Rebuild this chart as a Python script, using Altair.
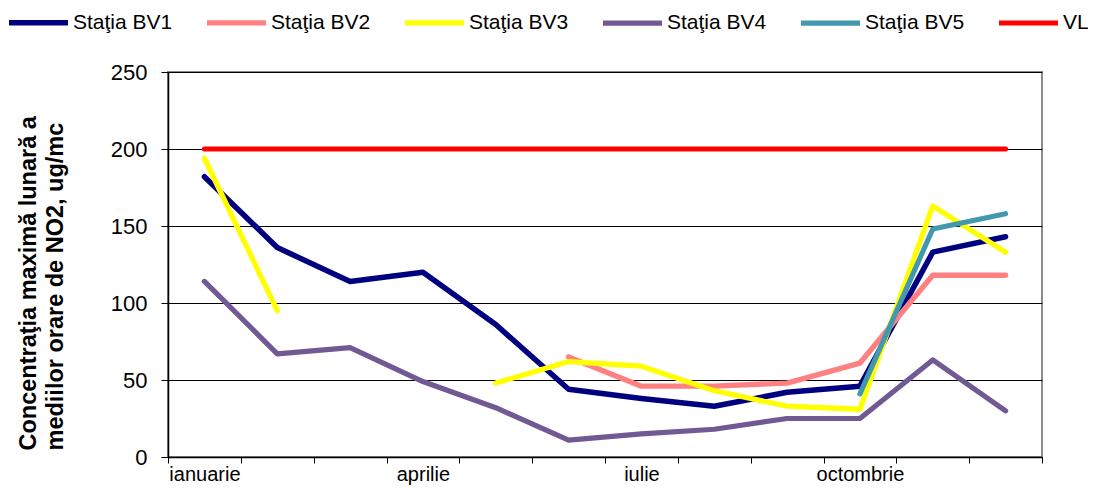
import altair as alt
import pandas as pd

months = ["ianuarie", "februarie", "martie", "aprilie", "mai", "iunie",
          "iulie", "august", "septembrie", "octombrie", "noiembrie", "decembrie"]
series_names = ["Staţia BV1", "Staţia BV2", "Staţia BV3", "Staţia BV4", "Staţia BV5", "VL"]

bv1 = [182, 136, 114, 120, 86, 44, 38, 33, 42, 46, 133, 143]
bv2 = [None, None, None, None, None, 65, 46, 46, 48, 61, 118, 118]
bv3 = [194, 95, None, None, 48, 62, 59, 43, 33, 31, 163, 133]
bv4 = [114, 67, 71, 49, 32, 11, 15, 18, 25, 25, 63, 30]
bv5 = [None, None, None, None, None, None, None, None, None, 41, 148, 158]
vl = [200, 200, 200, 200, 200, 200, 200, 200, 200, 200, 200, 200]

colors = ["#000080", "#FF8080", "#FFFF00", "#715A94", "#4198AF", "#FF0000"]
widths = [5.5, 5, 5.5, 3.5, 4.5, 4.5]

rows = []
for name, vals in zip(series_names, [bv1, bv2, bv3, bv4, bv5, vl]):
    for i, v in enumerate(vals):
        rows.append({"x": i + 0.5, "month": months[i], "series": name, "value": v})
df = pd.DataFrame(rows)

W, H = 874, 385
shown = [m if i % 3 == 0 else "" for i, m in enumerate(months)] + [""]
label_expr = "[" + ",".join("'" + s + "'" for s in shown) + "][datum.value]"

FONT = "Liberation Sans"

chart = alt.Chart(df).mark_line(strokeCap="round", strokeJoin="round").encode(
    x=alt.X("x:Q",
            scale=alt.Scale(domain=[0, 12], nice=False, zero=False),
            axis=alt.Axis(values=list(range(13)), title=None, grid=False,
                          labelExpr=label_expr, labelOffset=W / 24,
                          labelOverlap=False, labelFlush=False,
                          labelFontSize=20, labelBaseline="top",
                          tickSize=6, labelPadding=1, domainWidth=1.5)),
    y=alt.Y("value:Q",
            scale=alt.Scale(domain=[0, 250], nice=False),
            axis=alt.Axis(values=[0, 50, 100, 150, 200, 250],
                          title=["Concentraţia maximă lunară a", "mediilor orare de NO2, ug/mc"],
                          grid=True, gridColor="black", gridWidth=1,
                          tickSize=7, labelPadding=14, labelFontSize=22,
                          domainWidth=1.5,
                          titleX=-133, titleY=378, titleAngle=270,
                          titleAlign="left", titleBaseline="alphabetic",
                          titleLineHeight=27, titleFontSize=23.5,
                          titleFontWeight="bold", titleFont=FONT,
                          titleColor="black")),
    color=alt.Color("series:N",
                    scale=alt.Scale(domain=series_names, range=colors),
                    legend=alt.Legend(title=None, orient="none", legendX=-162, legendY=-82,
                                      direction="horizontal", columns=6, gridAlign="all",
                                      columnPadding=23, symbolType="stroke",
                                      symbolSize=59 * 59, symbolStrokeWidth=6,
                                      labelFontSize=21, labelFont=FONT, labelColor="black",
                                      labelOffset=2, labelLimit=0, padding=0)),
    strokeWidth=alt.StrokeWidth("series:N",
                                scale=alt.Scale(domain=series_names, range=widths),
                                legend=None),
).properties(
    width=W, height=H,
    autosize=alt.AutoSizeParams(type="none"),
    padding={"left": 160, "top": 64, "right": 46, "bottom": 29},
).configure_view(
    stroke="#8a8a8a", strokeWidth=2
).configure_axis(
    labelFont=FONT, labelColor="black",
    domainColor="black", tickColor="black"
)

chart.save("out.html", embed_options={"renderer": "svg", "actions": False})
